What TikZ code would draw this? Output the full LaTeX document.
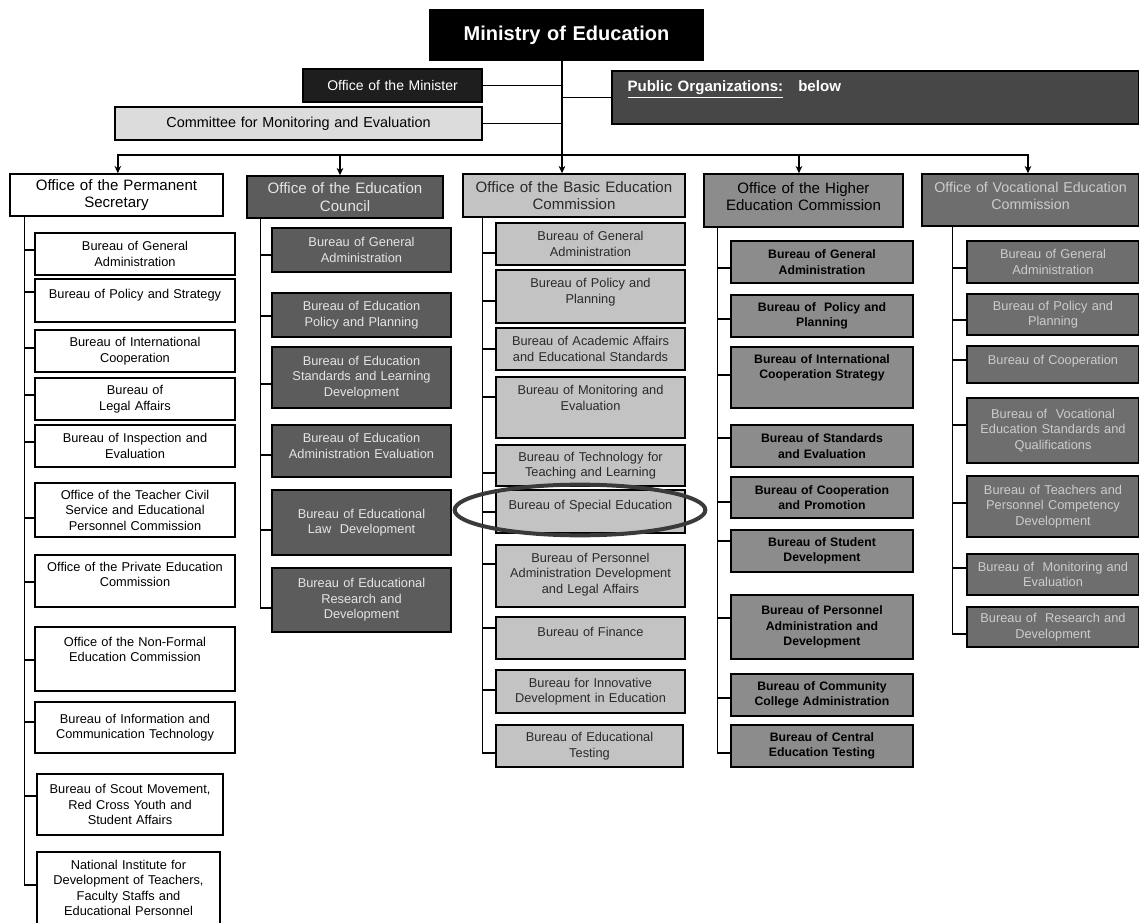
\documentclass[tikz,border=0pt]{standalone}
\usepackage{fontspec}
\setmainfont{Liberation Sans}
\usetikzlibrary{arrows.meta}
\definecolor{omfill}{HTML}{1E1E1E}
\definecolor{cmefill}{HTML}{DCDCDC}
\definecolor{pubfill}{HTML}{474747}
\definecolor{ecfill}{HTML}{5C5C5C}
\definecolor{ectext}{HTML}{E4E4E4}
\definecolor{bafill}{HTML}{C3C3C3}
\definecolor{batext}{HTML}{2A2A2A}
\definecolor{hifill}{HTML}{8C8C8C}
\definecolor{vofill}{HTML}{6E6E6E}
\definecolor{votext}{HTML}{CCCCCC}
\definecolor{ringc}{HTML}{3A3A3A}
\newcommand\padl[1]{\\[#1]\mbox{}}
\newcommand\bx[7]{%
  \pgfmathsetmacro\bxw{(#5-#3)*0.75}%
  \pgfmathsetmacro\bxh{(#6-#4)*0.75}%
  \pgfmathsetmacro\bxt{(#5-#3)*0.75-6}%
  \node[box, minimum width=\bxw pt, minimum height=\bxh pt, text width=\bxt pt, #2] (#1) at ({(#3+#5)/2},{(#4+#6)/2}) {#7};}
\newcommand\br[3]{\draw[conn] (#1) |- (#2.west |- 0,#3);}
\tikzset{
  box/.style={draw=black, line width=1.1pt, inner sep=1pt, align=center, fill=white, text=black,
    font=\fontsize{9.6}{11.6}\selectfont},
  hdr/.style={font=\fontsize{11.3}{13}\selectfont},
  ecb/.style={fill=ecfill, text=ectext},
  bab/.style={fill=bafill, text=batext},
  hib/.style={fill=hifill, text=black},
  hik/.style={fill=hifill, text=black, font=\bfseries\fontsize{9.2}{11.6}\selectfont},
  vob/.style={fill=vofill, text=votext},
  conn/.style={draw=black, line width=1.1pt},
  arr/.style={conn, -{Stealth[length=5.5pt,width=5pt]}},
  ring/.style={draw=ringc, line width=3pt},
}
\begin{document}
\begin{tikzpicture}[x=0.75pt,y=-0.75pt]
\fill[white] (0,0) rectangle (1139,923);
\useasboundingbox (0,0) rectangle (1139,923);

% top level
\bx{min}{fill=black,text=white,font=\bfseries\fontsize{15}{18}\selectfont}{430}{10}{703}{60}{Ministry of Education}
\bx{om}{fill=omfill,text=white,font=\fontsize{10.5}{12}\selectfont}{303}{69}{482}{102}{Office of the Minister}
\bx{cme}{fill=cmefill,font=\fontsize{10.8}{12}\selectfont}{115}{107}{482}{140}{Committee for Monitoring and Evaluation}
\bx{pub}{fill=pubfill,text=white,align=left,text width=372pt,font=\bfseries\fontsize{11.3}{13}\selectfont}{612}{71}{1139}{124}{\underline{Public Organizations:}\quad below\padl{3.8pt}}
\coordinate (bus) at (562,155);

% second level
\bx{ps}{hdr}{10}{174}{223}{216}{Office of the Permanent\\Secretary}
\bx{ec}{hdr,ecb}{247}{176}{443}{218}{Office of the Education\\Council}
\bx{bas}{hdr,bab}{463}{174}{685}{217}{Office of the Basic Education\\Commission}
\bx{hi}{hdr,hib}{704}{174}{903}{227}{Office of the Higher\\Education Commission\padl{-7pt}}
\bx{voc}{vob,font=\fontsize{10.7}{13}\selectfont}{922}{174}{1139}{226}{Office of Vocational Education\\Commission\padl{-7pt}}

% Permanent Secretary
\bx{ps1}{}{35}{233}{235}{275}{Bureau of General\\Administration}
\bx{ps2}{}{35}{279}{235}{322}{Bureau of Policy and Strategy\padl{-1pt}}
\bx{ps3}{}{35}{330}{235}{372}{Bureau of International\\Cooperation}
\bx{ps4}{}{35}{378}{235}{420}{Bureau of\\Legal Affairs}
\bx{ps5}{}{35}{425}{235}{467}{Bureau of Inspection and\\Evaluation}
\bx{ps6}{}{35}{483}{235}{537}{Office of the Teacher Civil\\Service and Educational\\Personnel Commission}
\bx{ps7}{}{35}{555}{235}{607}{Office of the Private Education\\Commission\padl{-2pt}}
\bx{ps8}{}{35}{627}{235}{691}{Office of the Non-Formal\\Education Commission\padl{3pt}}
\bx{ps9}{}{35}{702}{235}{753}{Bureau of Information and\\Communication Technology}
\bx{ps10}{}{37}{774}{223}{835}{Bureau of Scout Movement,\\Red Cross Youth and\\Student Affairs}
\bx{ps11}{}{37}{852}{220}{924}{National Institute for\\Development of Teachers,\\Faculty Staffs and\\Educational Personnel}

% Education Council
\bx{ec1}{ecb}{272}{228}{451}{272}{Bureau of General\\Administration}
\bx{ec2}{ecb}{272}{293}{451}{337}{Bureau of Education\\Policy and Planning}
\bx{ec3}{ecb}{272}{347}{451}{408}{Bureau of Education\\Standards and Learning\\Development}
\bx{ec4}{ecb}{272}{425}{451}{477}{Bureau of Education\\Administration Evaluation\padl{-4pt}}
\bx{ec5}{ecb}{272}{490}{451}{555}{Bureau of Educational\\Law~~Development}
\bx{ec6}{ecb}{272}{568}{451}{632}{Bureau of Educational\\Research and\\Development}

% Basic Education Commission
\bx{b1}{bab}{496}{223}{685}{265}{Bureau of General\\Administration}
\bx{b2}{bab}{496}{270}{685}{323}{Bureau of Policy and\\Planning\padl{-3pt}}
\bx{b3}{bab}{496}{328}{685}{370}{Bureau of Academic Affairs\\and Educational Standards}
\bx{b4}{bab}{496}{377}{685}{438}{Bureau of Monitoring and\\Evaluation\padl{3pt}}
\bx{b5}{bab}{496}{445}{685}{486}{Bureau of Technology for\\Teaching and Learning}
\bx{b6}{bab}{496}{490}{685}{533}{Bureau of Special Education\padl{-2pt}}
\bx{b7}{bab}{496}{545}{685}{607}{Bureau of Personnel\\Administration Development\\and Legal Affairs\padl{-7pt}}
\bx{b8}{bab}{496}{617}{685}{659}{Bureau of Finance\padl{-3pt}}
\bx{b9}{bab}{496}{670}{685}{713}{Bureau for Innovative\\Development in Education}
\bx{b10}{bab}{496}{725}{683}{767}{Bureau of Educational\\Testing}

% Higher Education Commission
\bx{h1}{hik}{731}{241}{913}{283}{Bureau of General\\Administration}
\bx{h2}{hik}{731}{295}{913}{337}{Bureau of~~Policy and\\Planning}
\bx{h3}{hik}{731}{347}{913}{408}{Bureau of International\\Cooperation Strategy\padl{5pt}}
\bx{h4}{hik}{731}{425}{913}{467}{Bureau of Standards\\and Evaluation}
\bx{h5}{hik}{731}{477}{913}{518}{Bureau of Cooperation\\and Promotion}
\bx{h6}{hik}{731}{530}{913}{572}{Bureau of Student\\Development}
\bx{h7}{hik}{731}{595}{913}{659}{Bureau of Personnel\\Administration and\\Development}
\bx{h8}{hik}{731}{674}{913}{716}{Bureau of Community\\College Administration}
\bx{h9}{hik}{731}{725}{913}{767}{Bureau of Central\\Education Testing}

% Vocational Education Commission
\bx{v1}{vob}{967}{241}{1139}{283}{Bureau of General\\Administration}
\bx{v2}{vob}{967}{294}{1139}{335}{Bureau of Policy and\\Planning}
\bx{v3}{vob}{967}{346}{1139}{383}{Bureau of Cooperation\padl{-4pt}}
\bx{v4}{vob}{967}{398}{1139}{463}{Bureau of~~Vocational\\Education Standards and\\Qualifications}
\bx{v5}{vob}{967}{476}{1139}{537}{Bureau of Teachers and\\Personnel Competency\\Development}
\bx{v6}{vob}{967}{554}{1139}{595}{Bureau of~~Monitoring and\\Evaluation}
\bx{v7}{vob}{967}{607}{1139}{647}{Bureau of~~Research and\\Development}

% top connectors
\draw[conn] (min.south -| bus) -- (bus);
\draw[conn] (om.east) -- (om.east -| bus);
\draw[conn] (cme.east) -- (cme.east -| bus);
\draw[conn] (pub.west) -- (pub.west -| bus);
\draw[arr] (bus) -| ([xshift=1pt]ps.north);
\draw[arr] (bus) -| ([xshift=-3.75pt]ec.north);
\draw[arr] (bus) -- (bus |- bas.north);
\draw[arr] (bus) -| ([xshift=-3.4pt]hi.north);
\draw[arr] (bus) -| ([xshift=-1.9pt]voc.north);

% spines
\coordinate (psS) at ([xshift=11.25pt]ps.south west);
\coordinate (ecS) at ([xshift=10.5pt]ec.south west);
\coordinate (baS) at ([xshift=15pt]bas.south west);
\coordinate (hiS) at ([xshift=10.5pt]hi.south west);
\coordinate (voS) at ([xshift=23.25pt]voc.south west);

\br{psS}{ps1}{250}\br{psS}{ps2}{292}\br{psS}{ps3}{348}\br{psS}{ps4}{395}
\br{psS}{ps5}{442}\br{psS}{ps6}{518}\br{psS}{ps7}{582}\br{psS}{ps8}{660}
\br{psS}{ps9}{722}\br{psS}{ps10}{796}\br{psS}{ps11}{885}

\br{ecS}{ec1}{255}\br{ecS}{ec2}{316}\br{ecS}{ec3}{384}\br{ecS}{ec4}{455}
\br{ecS}{ec5}{530}\br{ecS}{ec6}{608}

\br{baS}{b1}{253}\br{baS}{b2}{301}\br{baS}{b3}{349}\br{baS}{b4}{397}
\br{baS}{b5}{473}\br{baS}{b6}{512}\br{baS}{b7}{564}\br{baS}{b8}{628}
\br{baS}{b9}{690}\br{baS}{b10}{753}

\br{hiS}{h1}{268}\br{hiS}{h2}{319}\br{hiS}{h3}{375}\br{hiS}{h4}{438}
\br{hiS}{h5}{502}\br{hiS}{h6}{541}\br{hiS}{h7}{618}\br{hiS}{h8}{698}
\br{hiS}{h9}{753}

\br{voS}{v1}{268}\br{voS}{v2}{320}\br{voS}{v3}{360}\br{voS}{v4}{425}
\br{voS}{v5}{503}\br{voS}{v6}{568}\br{voS}{v7}{634}

% highlight ring
\draw[ring] (580,510) ellipse [x radius=94pt, y radius=19pt];
\end{tikzpicture}
\end{document}
